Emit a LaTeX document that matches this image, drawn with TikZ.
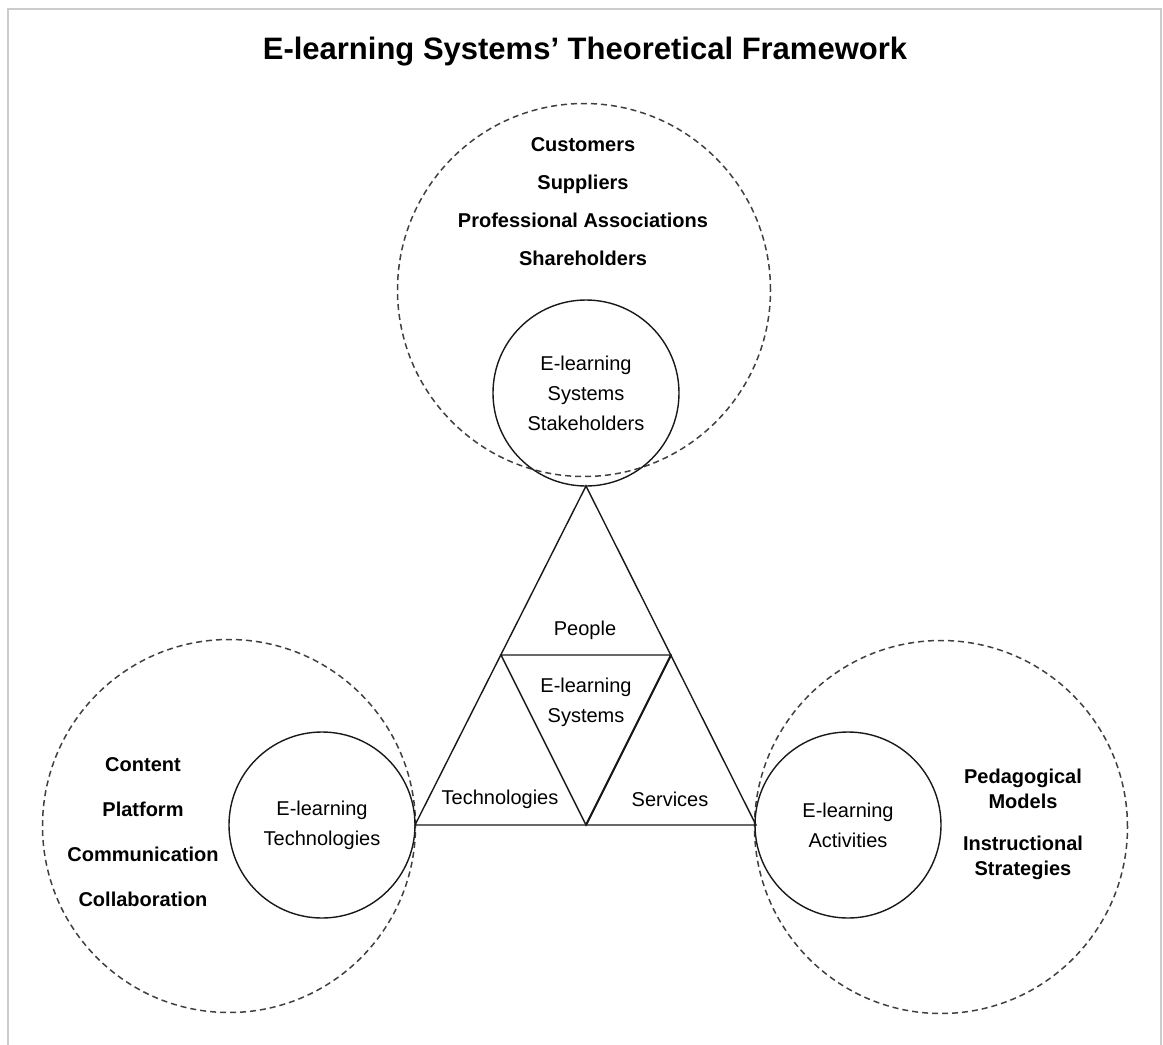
\documentclass[tikz,border=0pt]{standalone}
\usepackage{fontspec}
\setmainfont{Liberation Sans}
\begin{document}
\begin{tikzpicture}[x=1pt,y=-1pt,
  solidc/.style={draw=black!90, circle, line width=1.4pt, minimum size=186pt, inner sep=0pt},
  dashc/.style={draw=black!75, circle, dash pattern=on 6pt off 4pt, line width=1.5pt, minimum size=373pt, inner sep=0pt},
  ctext/.style={align=center, font=\fontsize{20}{30}\selectfont},
  btext/.style={align=center, font=\bfseries\fontsize{20}{25}\selectfont},
  edge/.style={draw=black!90, line width=1.4pt, line join=miter}
]
\useasboundingbox (0,0) rectangle (1163,1045);
\draw[black!20, line width=1.5pt] (8,1060) -- (8,9) -- (1161,9) -- (1161,1060);

% title
\node[font=\bfseries\fontsize{31}{34}\selectfont] (title) at (585,52) {E-learning Systems’ Theoretical Framework};

% dashed outer circles
\node[dashc] (dtop) at (584,290) {};
\node[dashc] (dleft) at (229,826) {};
\node[dashc] (dright) at (941,827) {};

% solid circles
\node[solidc] (ctop) at (586,393) {};
\node[solidc] (cleft) at (322,825) {};
\node[solidc] (cright) at (848,825) {};

% circle texts
\node[ctext] (ttop) at (ctop.center) {E-learning\\Systems\\Stakeholders};
\node[ctext] (tleft) at (cleft.center) {E-learning\\Technologies};
\node[ctext] (tright) at (cright.center) {E-learning\\Activities};

% triangle
\coordinate (A) at (586,486);
\coordinate (B) at (415,825);
\coordinate (C) at (756,825);
\coordinate (AB) at (501,655);
\coordinate (AC) at (671,655);
\coordinate (BC) at (586,825);
\draw[edge] (A) -- (B) -- (C) -- cycle;
\draw[edge] (AB) -- (AC) -- (BC) -- cycle;
\draw[draw=black!90, line width=2pt] (AC) -- (BC);

% triangle labels
\node[ctext] (people) at (585,630) {People};
\node[ctext] (els) at (586,702) {E-learning\\Systems};
\node[ctext] (tech) at (500,799) {Technologies};
\node[ctext] (serv) at (670,799) {Services};

% bold lists
\node[btext, font=\bfseries\fontsize{20}{38}\selectfont] (stake) at (583,202) {Customers\\Suppliers\\Professional Associations\\Shareholders};
\node[btext, font=\bfseries\fontsize{20}{45}\selectfont] (techlist) at (143,832) {Content\\Platform\\Communication\\Collaboration};
\node[btext] (peda) at (1023,789) {Pedagogical\\Models};
\node[btext] (instr) at (1023,858) {Instructional\\Strategies};
\end{tikzpicture}
\end{document}
